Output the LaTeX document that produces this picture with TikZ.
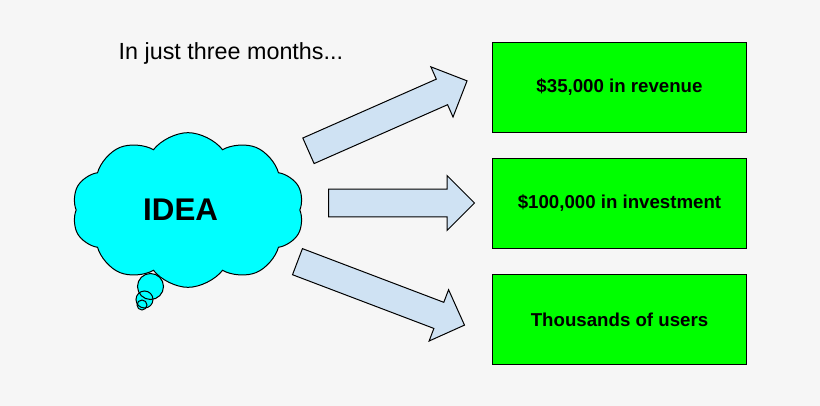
\documentclass[tikz,border=0pt]{standalone}
\usepackage{fontspec}
\setmainfont{Liberation Sans}
\usetikzlibrary{shapes.symbols,shapes.arrows}
\definecolor{bgray}{RGB}{246,246,246}
\definecolor{ideacyan}{RGB}{0,255,255}
\definecolor{arrowblue}{RGB}{207,226,243}
\definecolor{goalgreen}{RGB}{0,255,0}
\tikzset{
  goal/.style={draw=black, line width=0.75pt, fill=goalgreen, minimum width=191pt, minimum height=68pt, inner sep=0pt, font=\fontsize{14}{17}\selectfont\bfseries},
  bigarrow/.style={single arrow, draw=black, line width=0.75pt, fill=arrowblue, inner xsep=0pt, inner ysep=10.1pt, single arrow head extend=10.1pt, anchor=tail}
}
\begin{document}
\begin{tikzpicture}[x=0.75pt,y=-0.75pt]
\fill[bgray] (0,0) rectangle (820,406);
\useasboundingbox (0,0) rectangle (820,406);

\node[anchor=base west, font=\fontsize{17.5}{20}\selectfont] (title) at (114,59.3) {In just three months...};

\node[cloud, cloud puffs=10, cloud puff arc=105, aspect=1.5, draw=black, line width=0.75pt, fill=ideacyan, minimum width=174pt, minimum height=116pt, inner sep=0pt, font=\fontsize{23.5}{28}\selectfont\bfseries] (idea) at (188,210) {IDEA\hspace*{11pt}};

\foreach \x/\y/\r in {150.5/286.5/13, 144.5/299.5/8.5, 142/305/5}{
	\fill[ideacyan] (\x,\y) circle[radius=\r*0.75pt];
}
\foreach \x/\y/\r in {150.5/286.5/13, 144.5/299.5/8.5, 142/305/5}{
	\draw[black, line width=0.75pt] (\x,\y) circle[radius=\r*0.75pt];
}

\node[bigarrow, minimum height=130pt, rotate=23.8] (arrowtop) at (308,151) {};
\node[bigarrow, minimum height=109.5pt] (arrowmid) at (328,203) {};
\node[bigarrow, minimum height=134pt, rotate=-20.8] (arrowbot) at (297,261.5) {};

\node[goal] (revenue) at (619.5,87.5) {\$35,000 in revenue};
\node[goal] (investment) at (619.5,203.5) {\$100,000 in investment};
\node[goal] (users) at (619.5,319.5) {Thousands of users};
\end{tikzpicture}
\end{document}
